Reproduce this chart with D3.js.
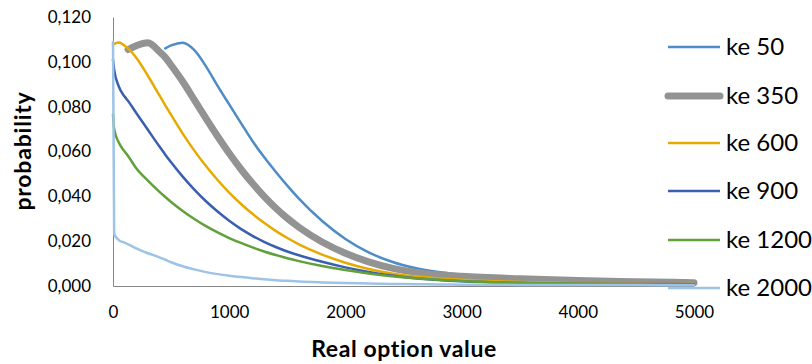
<!DOCTYPE html>
<html>
<head>
<meta charset="utf-8">
<script src="https://cdn.jsdelivr.net/npm/d3@7/dist/d3.min.js"></script>
<style>
  html, body { margin: 0; padding: 0; background: #fff; }
  svg { display: block; font-family: Lato, "Open Sans", sans-serif; }
</style>
</head>
<body>
<svg id="chart" width="812" height="364"></svg>
<script>
// ---- data ----
const xValues = [0, 10, 50, 100, 130, 200, 300, 400, 450, 500, 600, 700, 800, 900, 1000, 1100, 1200, 1300, 1400, 1500, 1600, 1800, 2000, 2200, 2400, 2600, 2800, 3000, 3500, 4000, 4500, 5000];

const ke50 = [null, null, null, null, null, null, null, null, 0.1060, 0.1073, 0.1085, 0.1052, 0.0980, 0.0893, 0.0810, 0.0728, 0.0647, 0.0575, 0.0510, 0.0448, 0.0390, 0.0290, 0.0210, 0.0150, 0.0108, 0.0080, 0.0062, 0.0050, 0.0030, 0.0019, 0.0014, 0.0011];
const ke350 = [null, null, null, null, 0.1055, 0.1072, 0.1085, 0.1045, 0.1020, 0.0985, 0.0912, 0.0830, 0.0748, 0.0668, 0.0592, 0.0522, 0.0458, 0.0400, 0.0348, 0.0302, 0.0262, 0.0196, 0.0146, 0.0108, 0.0080, 0.0062, 0.0050, 0.0043, 0.0032, 0.0024, 0.0019, 0.0015];
const ke600 = [0.1075, 0.1080, 0.1086, 0.1072, 0.1060, 0.1018, 0.0938, 0.0850, 0.0806, 0.0763, 0.0680, 0.0604, 0.0535, 0.0473, 0.0417, 0.0367, 0.0322, 0.0282, 0.0246, 0.0214, 0.0186, 0.0140, 0.0104, 0.0076, 0.0056, 0.0043, 0.0034, 0.0028, 0.0018, 0.0012, 0.0010, 0.0009];
const ke900 = [0.1010, 0.0965, 0.0890, 0.0845, 0.0825, 0.0772, 0.0697, 0.0622, 0.0586, 0.0552, 0.0488, 0.0430, 0.0378, 0.0332, 0.0291, 0.0255, 0.0224, 0.0197, 0.0174, 0.0154, 0.0137, 0.0108, 0.0083, 0.0063, 0.0047, 0.0035, 0.0027, 0.0021, 0.0013, 0.0010, 0.0009, 0.0008];
const ke1200 = [0.0765, 0.0700, 0.0640, 0.0600, 0.0580, 0.0525, 0.0470, 0.0420, 0.0397, 0.0375, 0.0335, 0.0299, 0.0267, 0.0239, 0.0214, 0.0192, 0.0172, 0.0154, 0.0138, 0.0124, 0.0111, 0.0089, 0.0071, 0.0056, 0.0044, 0.0035, 0.0028, 0.0022, 0.0014, 0.0010, 0.0008, 0.0007];
const ke2000 = [0.1088, 0.0232, 0.0205, 0.0193, 0.0186, 0.0168, 0.0146, 0.0128, 0.0117, 0.0106, 0.0088, 0.0074, 0.0062, 0.0053, 0.0046, 0.0040, 0.0035, 0.0030, 0.0026, 0.0023, 0.0020, 0.0016, 0.0013, 0.0011, 0.0009, 0.0008, 0.0007, 0.0006, 0.0005, 0.0004, 0.0004, 0.0003];

const seriesNames = ["ke 50", "ke 350", "ke 600", "ke 900", "ke 1200", "ke 2000"];
const seriesValues = [ke50, ke350, ke600, ke900, ke1200, ke2000];
const seriesColors = ["#4E8CC6", "#939393", "#E7AA00", "#3A5FAE", "#62A03C", "#9DC3E6"];
const seriesWidths = [2.5, 7, 2.5, 2.5, 2.5, 2.5];

const xTicks = [0, 1000, 2000, 3000, 4000, 5000];
const yTicks = [0, 0.02, 0.04, 0.06, 0.08, 0.10, 0.12];
const xTitle = "Real option value";
const yTitle = "probability";

// ---- chart ----
const svg = d3.select("#chart");
const x = d3.scaleLinear().domain([0, 5000]).range([113, 694]);
const y = d3.scaleLinear().domain([0, 0.12]).range([286, 17]);

const fmtY = v => d3.format(".3f")(v).replace(".", ",");

const yAxis = svg.append("g")
  .attr("transform", "translate(113,0)")
  .call(d3.axisLeft(y).tickValues(yTicks).tickSize(0).tickPadding(22).tickFormat(fmtY));
yAxis.select(".domain").attr("stroke", "#868686").attr("stroke-width", 1);
yAxis.selectAll("text").attr("font-size", 17).attr("fill", "#000").attr("font-family", "Lato, sans-serif");

const xAxis = svg.append("g")
  .attr("transform", "translate(0,286)")
  .call(d3.axisBottom(x).tickValues(xTicks).tickSize(0).tickPadding(20).tickFormat(d3.format("d")));
xAxis.select(".domain").attr("stroke", "#868686").attr("stroke-width", 1);
xAxis.selectAll("text").attr("font-size", 17).attr("fill", "#000").attr("font-family", "Lato, sans-serif");

const line = d3.line()
  .defined(d => d[1] !== null)
  .x(d => x(d[0]))
  .y(d => y(d[1]))
  .curve(d3.curveMonotoneX);

seriesValues.forEach((vals, i) => {
  const pts = xValues.map((xv, j) => [xv, vals[j]]);
  svg.append("path")
    .datum(pts)
    .attr("fill", "none")
    .attr("stroke", seriesColors[i])
    .attr("stroke-width", seriesWidths[i])
    .attr("stroke-linejoin", "round")
    .attr("stroke-linecap", "round")
    .attr("d", line);
});

// legend
const legendY = [47, 96, 143, 191, 240, 288];
seriesNames.forEach((name, i) => {
  const g = svg.append("g").attr("transform", `translate(0,${legendY[i]})`);
  g.append("line")
    .attr("x1", 668).attr("x2", 720)
    .attr("stroke", seriesColors[i])
    .attr("stroke-width", seriesWidths[i])
    .attr("stroke-linecap", i === 1 ? "round" : "butt");
  g.append("text")
    .attr("x", 726).attr("y", 0).attr("dy", "0.35em")
    .attr("font-size", 24)
    .attr("fill", "#000")
    .text(name);
});

// axis titles
svg.append("text")
  .attr("x", 404).attr("y", 357)
  .attr("text-anchor", "middle")
  .attr("font-size", 23).attr("font-weight", "bold")
  .attr("letter-spacing", 0.6)
  .attr("fill", "#000")
  .text(xTitle);

svg.append("text")
  .attr("transform", "translate(31,151) rotate(-90)")
  .attr("text-anchor", "middle")
  .attr("font-size", 23).attr("font-weight", "bold")
  .attr("letter-spacing", 0.8)
  .attr("fill", "#000")
  .text(yTitle);
</script>
</body>
</html>
